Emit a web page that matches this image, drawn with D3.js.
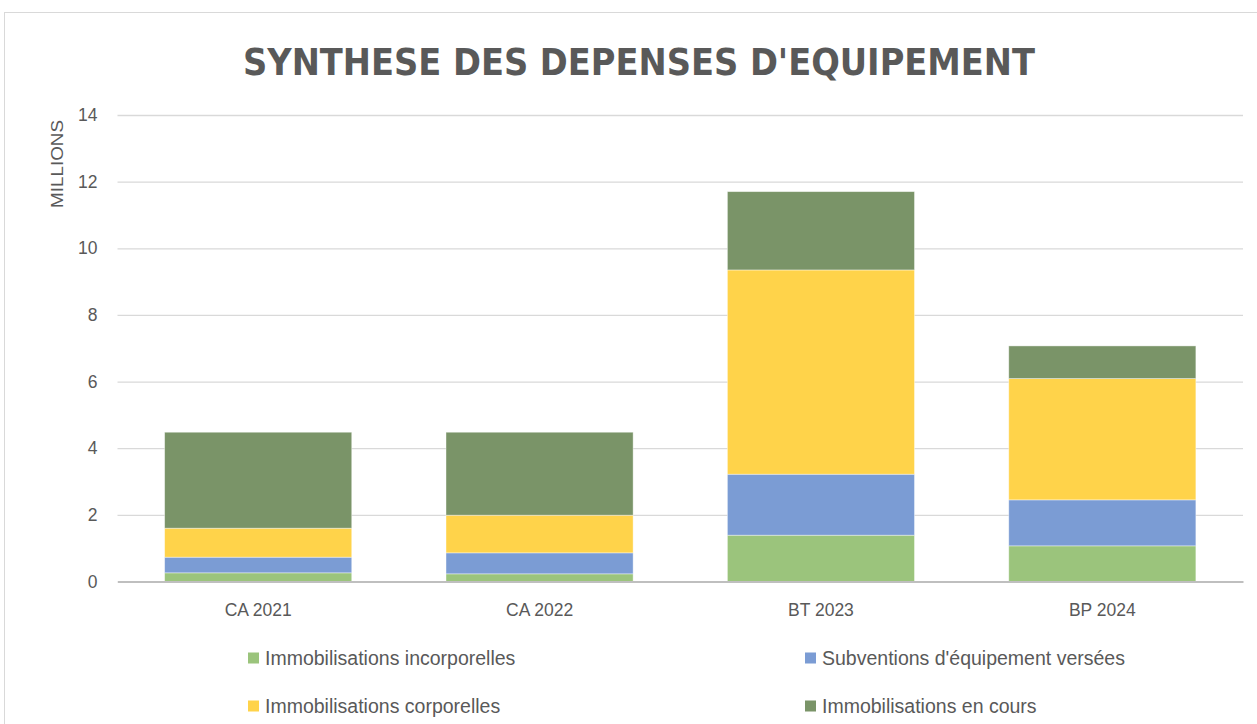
<!DOCTYPE html>
<html><head><meta charset="utf-8">
<script src="https://cdn.jsdelivr.net/npm/d3@7"></script>
<style>html,body{margin:0;padding:0;background:#fff;overflow:hidden}svg{display:block}</style>
</head><body>
<script>
const categories = ["CA 2021", "CA 2022", "BT 2023", "BP 2024"];
const seriesNames = ["Immobilisations incorporelles", "Subventions d'équipement versées", "Immobilisations corporelles", "Immobilisations en cours"];
const incorporelles = [0.26, 0.23, 1.39, 1.07];
const subventions = [0.47, 0.63, 1.83, 1.38];
const corporelles = [0.87, 1.13, 6.13, 3.64];
const enCours = [2.88, 2.49, 2.35, 0.98];
const yTicks = [0, 2, 4, 6, 8, 10, 12, 14];
const colors = ["#9bc47c", "#7b9cd4", "#ffd34a", "#7a9468"];

(function () {
const W = 1257, H = 724;
const svg = d3.select("body").append("svg").attr("width", W).attr("height", H);
svg.append("rect").attr("x", 4.5).attr("y", 12.5).attr("width", W + 10).attr("height", H + 10)
  .attr("fill", "#fff").attr("stroke", "#d9d9d9");

const pl = 117.5, pr = 1243, pt = 115, pb = 581.5;
const x = d3.scaleBand().domain(categories).range([pl, pr]).paddingInner(0.335).paddingOuter(0.1675);
const y = d3.scaleLinear().domain([0, 14]).range([pb, pt]);

const font = "'Liberation Sans Narrow','DejaVu Sans Condensed','Liberation Sans',sans-serif";
const txt = "#595959";

svg.append("text").attr("x", 639).attr("y", 75).attr("text-anchor", "middle")
  .attr("font-family", font).attr("font-weight", "bold").attr("font-size", 38).attr("fill", txt)
  .attr("textLength", 792).attr("lengthAdjust", "spacingAndGlyphs")
  .text("SYNTHESE DES DEPENSES D'EQUIPEMENT");

const yAxis = d3.axisLeft(y).tickValues(yTicks).tickSize(-(pr - pl)).tickPadding(20).tickFormat(d3.format("d"));
const ga = svg.append("g").attr("transform", `translate(${pl},0)`).call(yAxis);
ga.select(".domain").remove();
ga.selectAll(".tick line").attr("stroke", "#d9d9d9").attr("stroke-width", 1.3);
ga.selectAll(".tick text").attr("font-family", "'Liberation Sans',sans-serif").attr("font-size", 17.5).attr("fill", txt);

const data = categories.map((c, i) => ({cat: c, s0: incorporelles[i], s1: subventions[i], s2: corporelles[i], s3: enCours[i]}));
const stack = d3.stack().keys(["s0", "s1", "s2", "s3"])(data);
svg.append("g").selectAll("g").data(stack).join("g").attr("fill", (d, i) => colors[i])
  .selectAll("rect").data(d => d).join("rect")
  .attr("x", d => x(d.data.cat)).attr("width", x.bandwidth())
  .attr("y", d => y(d[1])).attr("height", d => y(d[0]) - y(d[1]))
  .attr("stroke", "rgba(255,255,255,0.5)").attr("stroke-width", 0.8);

const xAxis = d3.axisBottom(x).tickSize(0).tickPadding(22);
const gx = svg.append("g").attr("transform", `translate(0,${pb})`).call(xAxis);
gx.select(".domain").attr("stroke", "#bfbfbf").attr("stroke-width", 2);
gx.selectAll(".tick text").attr("font-family", "'Liberation Sans',sans-serif").attr("font-size", 17.5).attr("fill", txt);

svg.append("text").attr("transform", "translate(63,164) rotate(-90)").attr("text-anchor", "middle")
  .attr("font-family", "'Liberation Sans',sans-serif").attr("font-size", 17).attr("fill", txt)
  .attr("textLength", 88).attr("lengthAdjust", "spacingAndGlyphs").text("MILLIONS");

const legPos = [[248, 658], [805, 658], [248, 706], [805, 706]];
const lg = svg.append("g").selectAll("g").data(seriesNames).join("g")
  .attr("transform", (d, i) => `translate(${legPos[i][0]},${legPos[i][1]})`);
lg.append("rect").attr("x", 0).attr("y", -5.5).attr("width", 11).attr("height", 11).attr("fill", (d, i) => colors[i]);
lg.append("text").attr("x", 17).attr("y", 6.5).attr("font-family", "'Liberation Sans',sans-serif")
  .attr("font-size", 19.5).attr("fill", txt).text(d => d);
})();
</script>
</body></html>
